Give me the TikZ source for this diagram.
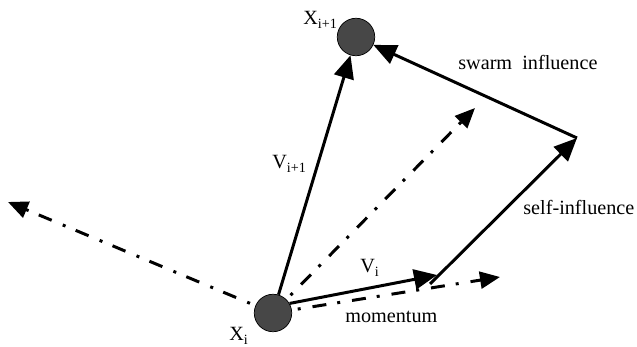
\documentclass[tikz,border=0pt]{standalone}
\usepackage{fontspec}
\setmainfont{Liberation Serif}
\usetikzlibrary{arrows.meta}

\begin{document}
\begin{tikzpicture}[x=0.02cm,y=-0.02cm,
        particle/.style={circle,draw=black,thin,fill=black!72,minimum size=0.75cm,inner sep=0pt},
        vec/.style={line width=1.7pt,-{Triangle[length=4.6mm,width=4mm]}},
        dirvec/.style={line width=1.7pt,dash pattern=on 2.8mm off 2.2mm on 0.6mm off 2.4mm,
                -{Triangle[length=4mm,width=3.4mm]}},
        lbl/.style={font=\fontsize{11.5}{14}\selectfont,inner sep=0pt,anchor=base west}]
        \useasboundingbox (0,0) rectangle (637,347);

        \coordinate (turn) at (577,138);
        \coordinate (selfstart) at (430,284);
        \coordinate (vitip) at (437,275);
        \coordinate (momtip) at (500,277);
        \coordinate (bestdir) at (475,108);
        \coordinate (backdir) at (8,202);

        \draw[dirvec] (273,313) -- (backdir);
        \draw[dirvec] (273,313) -- (bestdir);
        \draw[dirvec] (273,313) -- (momtip);

        \node[particle] (xi) at (273,313) {};
        \node[particle] (xnext) at (356,37) {};

        \draw[vec] (xi) -- (xnext);
        \draw[vec] (xi.30) -- (vitip);
        \draw[vec] (selfstart) -- (turn);
        \draw[vec] (turn) -- (xnext);

        \node[lbl] (lxnext) at (303,25) {X\textsubscript{i+1}};
        \node[lbl] (lxi) at (229,341) {X\textsubscript{i}};
        \node[lbl] (lvnext) at (272,169) {V\textsubscript{i+1}};
        \node[lbl] (lvi) at (360,273) {V\textsubscript{i}};
        \node[lbl] (lmom) at (345,323) {momentum};
        \node[lbl] (lswarm) at (458,70) {swarm\ \ influence};
        \node[lbl] (lself) at (523,215) {self-influence};
    \end{tikzpicture}
\end{document}
